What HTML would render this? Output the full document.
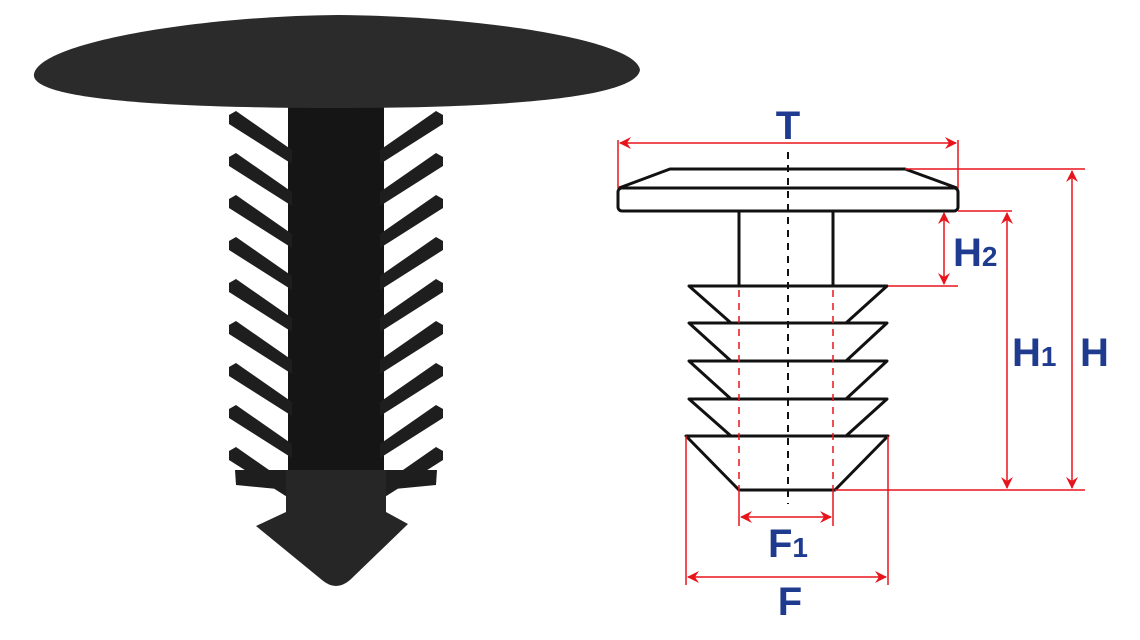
<!DOCTYPE html>
<html><head><meta charset="utf-8"><style>
html,body{margin:0;padding:0;background:#fff;width:1140px;height:640px;overflow:hidden}
svg{display:block}
text{font-family:"Liberation Sans",sans-serif;font-weight:bold;fill:#1f3b8f}
</style></head><body>
<svg width="1140" height="640" viewBox="0 0 1140 640" xmlns="http://www.w3.org/2000/svg">
<defs>
<marker id="a" viewBox="0 0 12 12" refX="11" refY="6" markerWidth="12" markerHeight="12" markerUnits="userSpaceOnUse" orient="auto-start-reverse">
<path d="M0,0 L12,6 L0,12 L4,6 Z" fill="#e8141c"/></marker>
</defs>
<!-- photo -->
<g fill="#1e1e1e">
<path d="M288,100 L384,100 L384,470 L288,470 Z" fill="#151515"/>
<g id="fl">
<path d="M229,115 L236,111 L292,150 L292,164 L229,124 Z"/>
</g>
<use href="#fl" transform="translate(0,42)"/><use href="#fl" transform="translate(0,84)"/><use href="#fl" transform="translate(0,126)"/><use href="#fl" transform="translate(0,168)"/><use href="#fl" transform="translate(0,210)"/><use href="#fl" transform="translate(0,252)"/><use href="#fl" transform="translate(0,294)"/><use href="#fl" transform="translate(0,336)"/>
<g transform="translate(672,0) scale(-1,1)">
<use href="#fl"/><use href="#fl" transform="translate(0,42)"/><use href="#fl" transform="translate(0,84)"/><use href="#fl" transform="translate(0,126)"/><use href="#fl" transform="translate(0,168)"/><use href="#fl" transform="translate(0,210)"/><use href="#fl" transform="translate(0,252)"/><use href="#fl" transform="translate(0,294)"/><use href="#fl" transform="translate(0,336)"/>
</g>
<path d="M235,470 L288,470 L288,490 L236,485 Z"/>
<path d="M437,470 L384,470 L384,490 L436,485 Z"/>
<path d="M286,470 L386,470 L386,512 L408,524 L350,580 Q336,592 322,580 L256,526 L286,512 Z" fill="#262626"/>
<path d="M34,74 C40,42 200,16 338,15 C480,16 636,40 640,70 C636,96 520,108 338,108 C150,108 30,98 34,74 Z" fill="#2b2b2b"/>
</g>
<!-- drawing -->
<g fill="none" stroke="#111" stroke-width="3" stroke-linejoin="round">
<path d="M619,188 L670,169 L905,169 L957,188 Z"/>
<rect x="618" y="188" width="340" height="23" rx="4"/>
<rect x="739" y="211" width="94" height="75"/>
<path d="M689,286 L887,286 L846,323 L731,323 Z"/>
<path d="M689,323 L887,323 L846,361 L731,361 Z"/>
<path d="M689,361 L887,361 L846,399 L731,399 Z"/>
<path d="M689,399 L887,399 L846,436 L731,436 Z"/>
<path d="M686,436 L888,436 L835,490 L739,490 Z"/>
</g>
<line x1="788" y1="152" x2="788" y2="504" stroke="#111" stroke-width="2" stroke-dasharray="7,6"/>
<g stroke="#e8141c" stroke-width="1.5" fill="none">
<line x1="739" y1="290" x2="739" y2="490" stroke-dasharray="7,6"/>
<line x1="833" y1="290" x2="833" y2="490" stroke-dasharray="7,6"/>
<line x1="618" y1="140" x2="618" y2="188"/>
<line x1="958" y1="140" x2="958" y2="188"/>
<line x1="620" y1="143" x2="956" y2="143" marker-start="url(#a)" marker-end="url(#a)"/>
<line x1="905" y1="169" x2="1085" y2="169"/>
<line x1="958" y1="211" x2="1012" y2="211"/>
<line x1="888" y1="286" x2="958" y2="286"/>
<line x1="835" y1="490" x2="1085" y2="490"/>
<line x1="1072" y1="171" x2="1072" y2="488" marker-start="url(#a)" marker-end="url(#a)"/>
<line x1="1007" y1="213" x2="1007" y2="488" marker-start="url(#a)" marker-end="url(#a)"/>
<line x1="944" y1="213" x2="944" y2="284" marker-start="url(#a)" marker-end="url(#a)"/>
<line x1="739" y1="490" x2="739" y2="526"/>
<line x1="833" y1="490" x2="833" y2="526"/>
<line x1="741" y1="517" x2="831" y2="517" marker-start="url(#a)" marker-end="url(#a)"/>
<line x1="686" y1="436" x2="686" y2="585"/>
<line x1="888" y1="436" x2="888" y2="585"/>
<line x1="688" y1="577" x2="886" y2="577" marker-start="url(#a)" marker-end="url(#a)"/>
</g>
<text x="788" y="139" font-size="40" text-anchor="middle">T</text>
<text x="953" y="266" font-size="40">H<tspan font-size="28">2</tspan></text>
<text x="1012" y="366" font-size="40">H<tspan font-size="28">1</tspan></text>
<text x="1080" y="366" font-size="40">H</text>
<text x="788" y="557" font-size="40" text-anchor="middle">F<tspan font-size="28">1</tspan></text>
<text x="790" y="615" font-size="40" text-anchor="middle">F</text>
</svg>
</body></html>
